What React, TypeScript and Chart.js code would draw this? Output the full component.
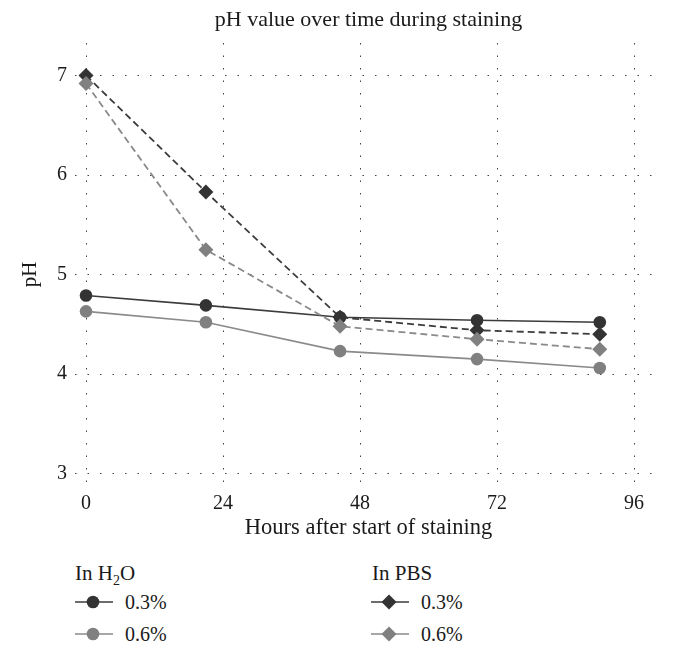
import React, { useEffect, useRef } from 'react';
import { Chart, registerables } from 'chart.js';

Chart.register(...registerables);

const hours = [0, 21, 44.5, 68.5, 90];
const h2o03 = [4.79, 4.69, 4.57, 4.54, 4.52];
const h2o06 = [4.63, 4.52, 4.23, 4.15, 4.06];
const pbs03 = [7.0, 5.83, 4.57, 4.44, 4.4];
const pbs06 = [6.92, 5.25, 4.48, 4.35, 4.25];
const xTicks = [0, 24, 48, 72, 96];
const yTicks = [3, 4, 5, 6, 7];
const chartTitle = 'pH value over time during staining';
const xTitle = 'Hours after start of staining';
const yTitle = 'pH';
const legendGroups = ['In H', 'In PBS'];
const legendItems = ['0.3%', '0.6%'];

const FONT = "'Liberation Serif', 'Times New Roman', serif";
const TEXT = '#1a1a1a';
const DARK = '#333333';
const GRAY = '#808080';
const DARK_LINE = '#3c3c3c';
const GRAY_LINE = '#8a8a8a';

const toPoints = (ys: number[]) => hours.map((x, i) => ({ x, y: ys[i] }));

const yTitlePlugin = {
  id: 'yTitleCustom',
  afterDraw(chart: any) {
    const { ctx } = chart;
    const y = chart.scales.y;
    const cy = (y.getPixelForValue(yTicks[0]) + y.getPixelForValue(yTicks[yTicks.length - 1])) / 2;
    ctx.save();
    ctx.translate(30, cy);
    ctx.rotate(-Math.PI / 2);
    ctx.font = `21px ${FONT}`;
    ctx.fillStyle = TEXT;
    ctx.textAlign = 'center';
    ctx.textBaseline = 'middle';
    ctx.fillText(yTitle, 0, 0);
    ctx.restore();
  },
};

function Marker({ shape, color, lineColor }: { shape: 'circle' | 'diamond'; color: string; lineColor: string }) {
  return (
    <svg width={38} height={20} style={{ display: 'block' }}>
      <line x1={0} y1={10} x2={38} y2={10} stroke={lineColor} strokeWidth={1.6} />
      {shape === 'circle' ? (
        <circle cx={18} cy={10} r={6.3} fill={color} />
      ) : (
        <polygon points="18,2.5 25.5,10 18,17.5 10.5,10" fill={color} />
      )}
    </svg>
  );
}

export default function App() {
  const ref = useRef<HTMLCanvasElement | null>(null);

  useEffect(() => {
    if (!ref.current) return;
    const gridCommon = { color: '#444444', lineWidth: 1, drawTicks: false };
    const borderCommon = { display: false, dash: [1.5, 11] };
    const tickFont = { family: FONT, size: 20 };
    const chart = new Chart(ref.current, {
      type: 'line',
      data: {
        datasets: [
          {
            label: 'In H2O 0.3%',
            data: toPoints(h2o03),
            borderColor: DARK_LINE,
            borderWidth: 1.6,
            backgroundColor: DARK,
            pointBackgroundColor: DARK,
            pointBorderWidth: 0,
            pointRadius: 6.3,
            pointStyle: 'circle',
            order: 4,
          },
          {
            label: 'In H2O 0.6%',
            data: toPoints(h2o06),
            borderColor: GRAY_LINE,
            borderWidth: 1.6,
            backgroundColor: GRAY,
            pointBackgroundColor: GRAY,
            pointBorderWidth: 0,
            pointRadius: 6.3,
            pointStyle: 'circle',
            order: 3,
          },
          {
            label: 'In PBS 0.3%',
            data: toPoints(pbs03),
            borderColor: DARK_LINE,
            borderWidth: 1.8,
            borderDash: [7, 4],
            backgroundColor: DARK,
            pointBackgroundColor: DARK,
            pointBorderWidth: 0,
            pointRadius: 7.5,
            pointStyle: 'rectRot',
            order: 2,
          },
          {
            label: 'In PBS 0.6%',
            data: toPoints(pbs06),
            borderColor: GRAY_LINE,
            borderWidth: 1.8,
            borderDash: [7, 4],
            backgroundColor: GRAY,
            pointBackgroundColor: GRAY,
            pointBorderWidth: 0,
            pointRadius: 7.5,
            pointStyle: 'rectRot',
            order: 1,
          },
        ],
      },
      options: {
        animation: false,
        responsive: false,
        maintainAspectRatio: false,
        layout: { padding: { left: 0, right: 15, top: 0, bottom: 0 } },
        plugins: {
          legend: { display: false },
          tooltip: { enabled: false },
          title: {
            display: true,
            text: chartTitle,
            fullSize: false,
            color: TEXT,
            font: { family: FONT, size: 22, weight: 'normal' },
            padding: { top: 7, bottom: 9.6 },
          },
        },
        scales: {
          x: {
            type: 'linear',
            min: -1.93,
            max: 100.9,
            afterBuildTicks: (s: any) => {
              s.ticks = xTicks.map((v) => ({ value: v }));
            },
            afterFit: (s: any) => {
              s.height = 63;
            },
            ticks: { font: tickFont, color: TEXT, padding: 10, maxRotation: 0, autoSkip: false },
            grid: gridCommon,
            border: borderCommon,
            title: {
              display: true,
              text: xTitle,
              color: TEXT,
              font: { family: FONT, size: 22.5 },
              padding: { top: 0, bottom: 3.5 },
            },
          },
          y: {
            type: 'linear',
            min: 2.915,
            max: 7.327,
            afterBuildTicks: (s: any) => {
              s.ticks = yTicks.map((v) => ({ value: v }));
            },
            afterFit: (s: any) => {
              s.width = 75;
            },
            ticks: { font: tickFont, color: TEXT, padding: 8, autoSkip: false },
            grid: gridCommon,
            border: borderCommon,
          },
        },
      } as any,
      plugins: [yTitlePlugin],
    });
    return () => chart.destroy();
  }, []);

  const textStyle: React.CSSProperties = {
    position: 'absolute',
    fontFamily: FONT,
    fontSize: 20,
    lineHeight: '20px',
    color: TEXT,
    whiteSpace: 'nowrap',
  };

  return (
    <div style={{ position: 'absolute', left: 0, top: 0, width: 677, height: 657, background: '#fff' }}>
      <canvas ref={ref} width={677} height={545} style={{ display: 'block' }} />
      <div style={{ ...textStyle, fontSize: 21, left: 75, top: 563 }}>
        {legendGroups[0]}
        <span style={{ fontSize: 14, position: 'relative', top: 5 }}>2</span>O
      </div>
      <div style={{ position: 'absolute', left: 75, top: 592 }}>
        <Marker shape="circle" color={DARK} lineColor={DARK_LINE} />
      </div>
      <div style={{ ...textStyle, left: 125, top: 592 }}>{legendItems[0]}</div>
      <div style={{ position: 'absolute', left: 75, top: 624 }}>
        <Marker shape="circle" color={GRAY} lineColor={GRAY_LINE} />
      </div>
      <div style={{ ...textStyle, left: 125, top: 624 }}>{legendItems[1]}</div>

      <div style={{ ...textStyle, fontSize: 21, left: 372, top: 563 }}>{legendGroups[1]}</div>
      <div style={{ position: 'absolute', left: 371, top: 592 }}>
        <Marker shape="diamond" color={DARK} lineColor={DARK_LINE} />
      </div>
      <div style={{ ...textStyle, left: 421, top: 592 }}>{legendItems[0]}</div>
      <div style={{ position: 'absolute', left: 371, top: 624 }}>
        <Marker shape="diamond" color={GRAY} lineColor={GRAY_LINE} />
      </div>
      <div style={{ ...textStyle, left: 421, top: 624 }}>{legendItems[1]}</div>
    </div>
  );
}
